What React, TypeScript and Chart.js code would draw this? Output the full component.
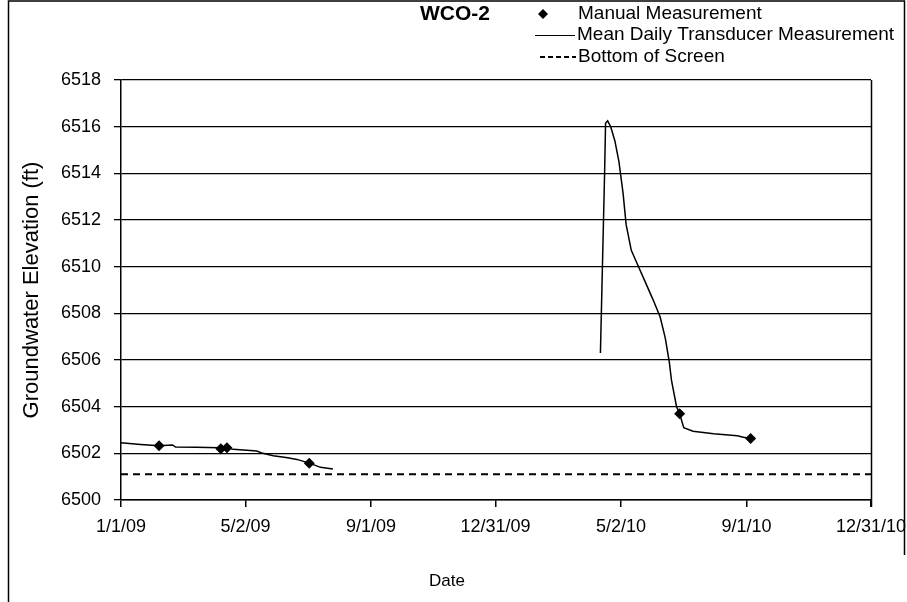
import React, { useEffect, useRef } from 'react';
import { Chart, registerables } from 'chart.js';

Chart.register(...registerables);

const BASE = Date.UTC(2009, 0, 1);
const dayOf = (s: string): number => {
  const [y, m, d] = s.split('-').map(Number);
  return (Date.UTC(y, m - 1, d) - BASE) / 86400000;
};

// X axis ticks
const tickDates = ['2009-01-01', '2009-05-02', '2009-09-01', '2009-12-31', '2010-05-02', '2010-09-01', '2010-12-31'];
const tickLabels = ['1/1/09', '5/2/09', '9/1/09', '12/31/09', '5/2/10', '9/1/10', '12/31/10'];

// Mean daily transducer measurement (two recording periods)
const transducer1Dates = [
  '2009-01-01', '2009-01-20', '2009-02-07', '2009-02-20', '2009-02-23', '2009-03-15', '2009-04-07',
  '2009-04-14', '2009-04-20', '2009-05-13', '2009-05-19', '2009-05-29', '2009-06-12', '2009-06-21',
  '2009-07-03', '2009-07-14', '2009-07-26',
];
const transducer1Values = [
  6502.45, 6502.38, 6502.32, 6502.36, 6502.27, 6502.26, 6502.24,
  6502.24, 6502.17, 6502.10, 6502.00, 6501.90, 6501.81, 6501.74,
  6501.58, 6501.40, 6501.33,
];
const transducer2Dates = [
  '2010-04-12', '2010-04-14', '2010-04-16', '2010-04-17', '2010-04-19', '2010-04-22', '2010-04-26',
  '2010-04-30', '2010-05-04', '2010-05-07', '2010-05-12', '2010-05-17', '2010-05-25', '2010-06-02',
  '2010-06-09', '2010-06-14', '2010-06-18', '2010-06-20', '2010-06-25', '2010-06-28', '2010-07-02',
  '2010-07-11', '2010-07-31', '2010-08-23', '2010-08-29', '2010-09-04',
];
const transducer2Values = [
  6506.3, 6510.1, 6513.9, 6516.15, 6516.25, 6516.0, 6515.4,
  6514.5, 6513.15, 6511.8, 6510.7, 6510.2, 6509.4, 6508.6,
  6507.85, 6506.95, 6505.9, 6505.15, 6504.0, 6503.7, 6503.1,
  6502.95, 6502.84, 6502.75, 6502.69, 6502.65,
];

// Manual measurements
const manualDates = ['2009-02-07', '2009-04-08', '2009-04-14', '2009-07-03', '2010-06-28', '2010-09-05'];
const manualValues = [6502.32, 6502.2, 6502.24, 6501.58, 6503.7, 6502.64];

// Bottom of screen
const screenDates = ['2009-01-01', '2010-12-31'];
const screenValues = [6501.1, 6501.1];

const FONT = "'Liberation Sans', Arial, sans-serif";

export default function App() {
  const ref = useRef<HTMLCanvasElement | null>(null);

  useEffect(() => {
    const canvas = ref.current;
    if (!canvas) return;

    const transducerData: any[] = [
      ...transducer1Dates.map((d, i) => ({ x: dayOf(d), y: transducer1Values[i] })),
      { x: (dayOf(transducer1Dates[transducer1Dates.length - 1]) + dayOf(transducer2Dates[0])) / 2, y: null },
      ...transducer2Dates.map((d, i) => ({ x: dayOf(d), y: transducer2Values[i] })),
    ];
    const manualData = manualDates.map((d, i) => ({ x: dayOf(d), y: manualValues[i] }));
    const screenData = screenDates.map((d, i) => ({ x: dayOf(d), y: screenValues[i] }));
    const tickDays = tickDates.map(dayOf);

    const decor = {
      id: 'decor',
      afterDraw(chart: any) {
        const ctx = chart.ctx;
        const a = chart.chartArea;
        ctx.save();
        ctx.strokeStyle = '#000';
        ctx.fillStyle = '#000';
        // right border of plot area
        ctx.lineWidth = 1.5;
        ctx.beginPath();
        ctx.moveTo(Math.round(a.right) + 0.5, a.top);
        ctx.lineTo(Math.round(a.right) + 0.5, a.bottom + 7);
        ctx.stroke();
        // outer frame
        ctx.beginPath();
        ctx.moveTo(8.5, 602);
        ctx.lineTo(8.5, 1);
        ctx.lineTo(904.5, 1);
        ctx.lineTo(904.5, 555);
        ctx.stroke();
        // title
        ctx.font = `bold 21px ${FONT}`;
        ctx.textAlign = 'center';
        ctx.textBaseline = 'middle';
        ctx.fillText('WCO-2', 455, 14);
        // x axis title
        ctx.font = `17px ${FONT}`;
        ctx.fillText('Date', 447, 581);
        // legend
        ctx.font = `19px ${FONT}`;
        ctx.textAlign = 'left';
        // row 1: diamond
        ctx.beginPath();
        ctx.moveTo(543, 9);
        ctx.lineTo(548, 14);
        ctx.lineTo(543, 19);
        ctx.lineTo(538, 14);
        ctx.closePath();
        ctx.fill();
        ctx.fillText('Manual Measurement', 578, 14);
        // row 2: solid line
        ctx.lineWidth = 1.2;
        ctx.beginPath();
        ctx.moveTo(535, 35.5);
        ctx.lineTo(575, 35.5);
        ctx.stroke();
        ctx.fillText('Mean Daily Transducer Measurement', 577, 35);
        // row 3: dashed line
        ctx.lineWidth = 2;
        ctx.setLineDash([5, 3]);
        ctx.beginPath();
        ctx.moveTo(540, 57);
        ctx.lineTo(576, 57);
        ctx.stroke();
        ctx.setLineDash([]);
        ctx.fillText('Bottom of Screen', 578, 57);
        ctx.restore();
      },
    };

    const chart = new Chart(canvas, {
      type: 'line',
      data: {
        datasets: [
          {
            label: 'Mean Daily Transducer Measurement',
            data: transducerData,
            borderColor: '#000',
            borderWidth: 1.5,
            pointRadius: 0,
            tension: 0,
            spanGaps: false,
            order: 2,
          },
          {
            label: 'Manual Measurement',
            data: manualData,
            showLine: false,
            pointStyle: 'rectRot',
            pointRadius: 5.5,
            backgroundColor: '#000',
            borderColor: '#000',
            borderWidth: 0,
            order: 1,
          },
          {
            label: 'Bottom of Screen',
            data: screenData,
            borderColor: '#000',
            borderWidth: 2,
            borderDash: [7, 5],
            pointRadius: 0,
            order: 3,
          },
        ],
      },
      options: {
        responsive: false,
        animation: false,
        layout: { padding: { top: 80, right: 36, bottom: 0, left: 0 } },
        plugins: {
          legend: { display: false },
          title: { display: false },
          tooltip: { enabled: false },
        },
        scales: {
          x: {
            type: 'linear',
            min: 0,
            max: 729,
            afterFit: (s: any) => { s.height = 102; s.paddingRight = 0; s.paddingLeft = 0; },
            afterBuildTicks: (s: any) => { s.ticks = tickDays.map((v) => ({ value: v })); },
            ticks: {
              autoSkip: false,
              maxRotation: 0,
              padding: 9,
              color: '#000',
              font: { family: FONT, size: 18 },
              callback: (_v: any, i: number) => tickLabels[i],
            },
            grid: { drawOnChartArea: false, drawTicks: true, tickLength: 7, color: '#000', lineWidth: 1.5 },
            border: { color: '#000', width: 1.5 },
            title: { display: false },
          },
          y: {
            min: 6500,
            max: 6518,
            afterFit: (s: any) => { s.width = 121; s.paddingTop = 0; s.paddingBottom = 0; },
            ticks: {
              stepSize: 2,
              padding: 13,
              color: '#000',
              font: { family: FONT, size: 18 },
              callback: (v: any) => String(v),
            },
            grid: { color: '#000', lineWidth: 1.3, tickLength: 7 },
            border: { color: '#000', width: 1.5 },
            title: {
              display: true,
              text: 'Groundwater Elevation (ft)',
              color: '#000',
              font: { family: FONT, size: 22 },
              padding: { top: 19, bottom: 0 },
            },
          },
        },
      },
      plugins: [decor],
    });

    return () => chart.destroy();
  }, []);

  return (
    <div style={{ position: 'absolute', left: 0, top: 0, width: 907, height: 602, background: '#fff' }}>
      <canvas ref={ref} width={907} height={602} style={{ display: 'block', width: 907, height: 602 }} />
    </div>
  );
}
